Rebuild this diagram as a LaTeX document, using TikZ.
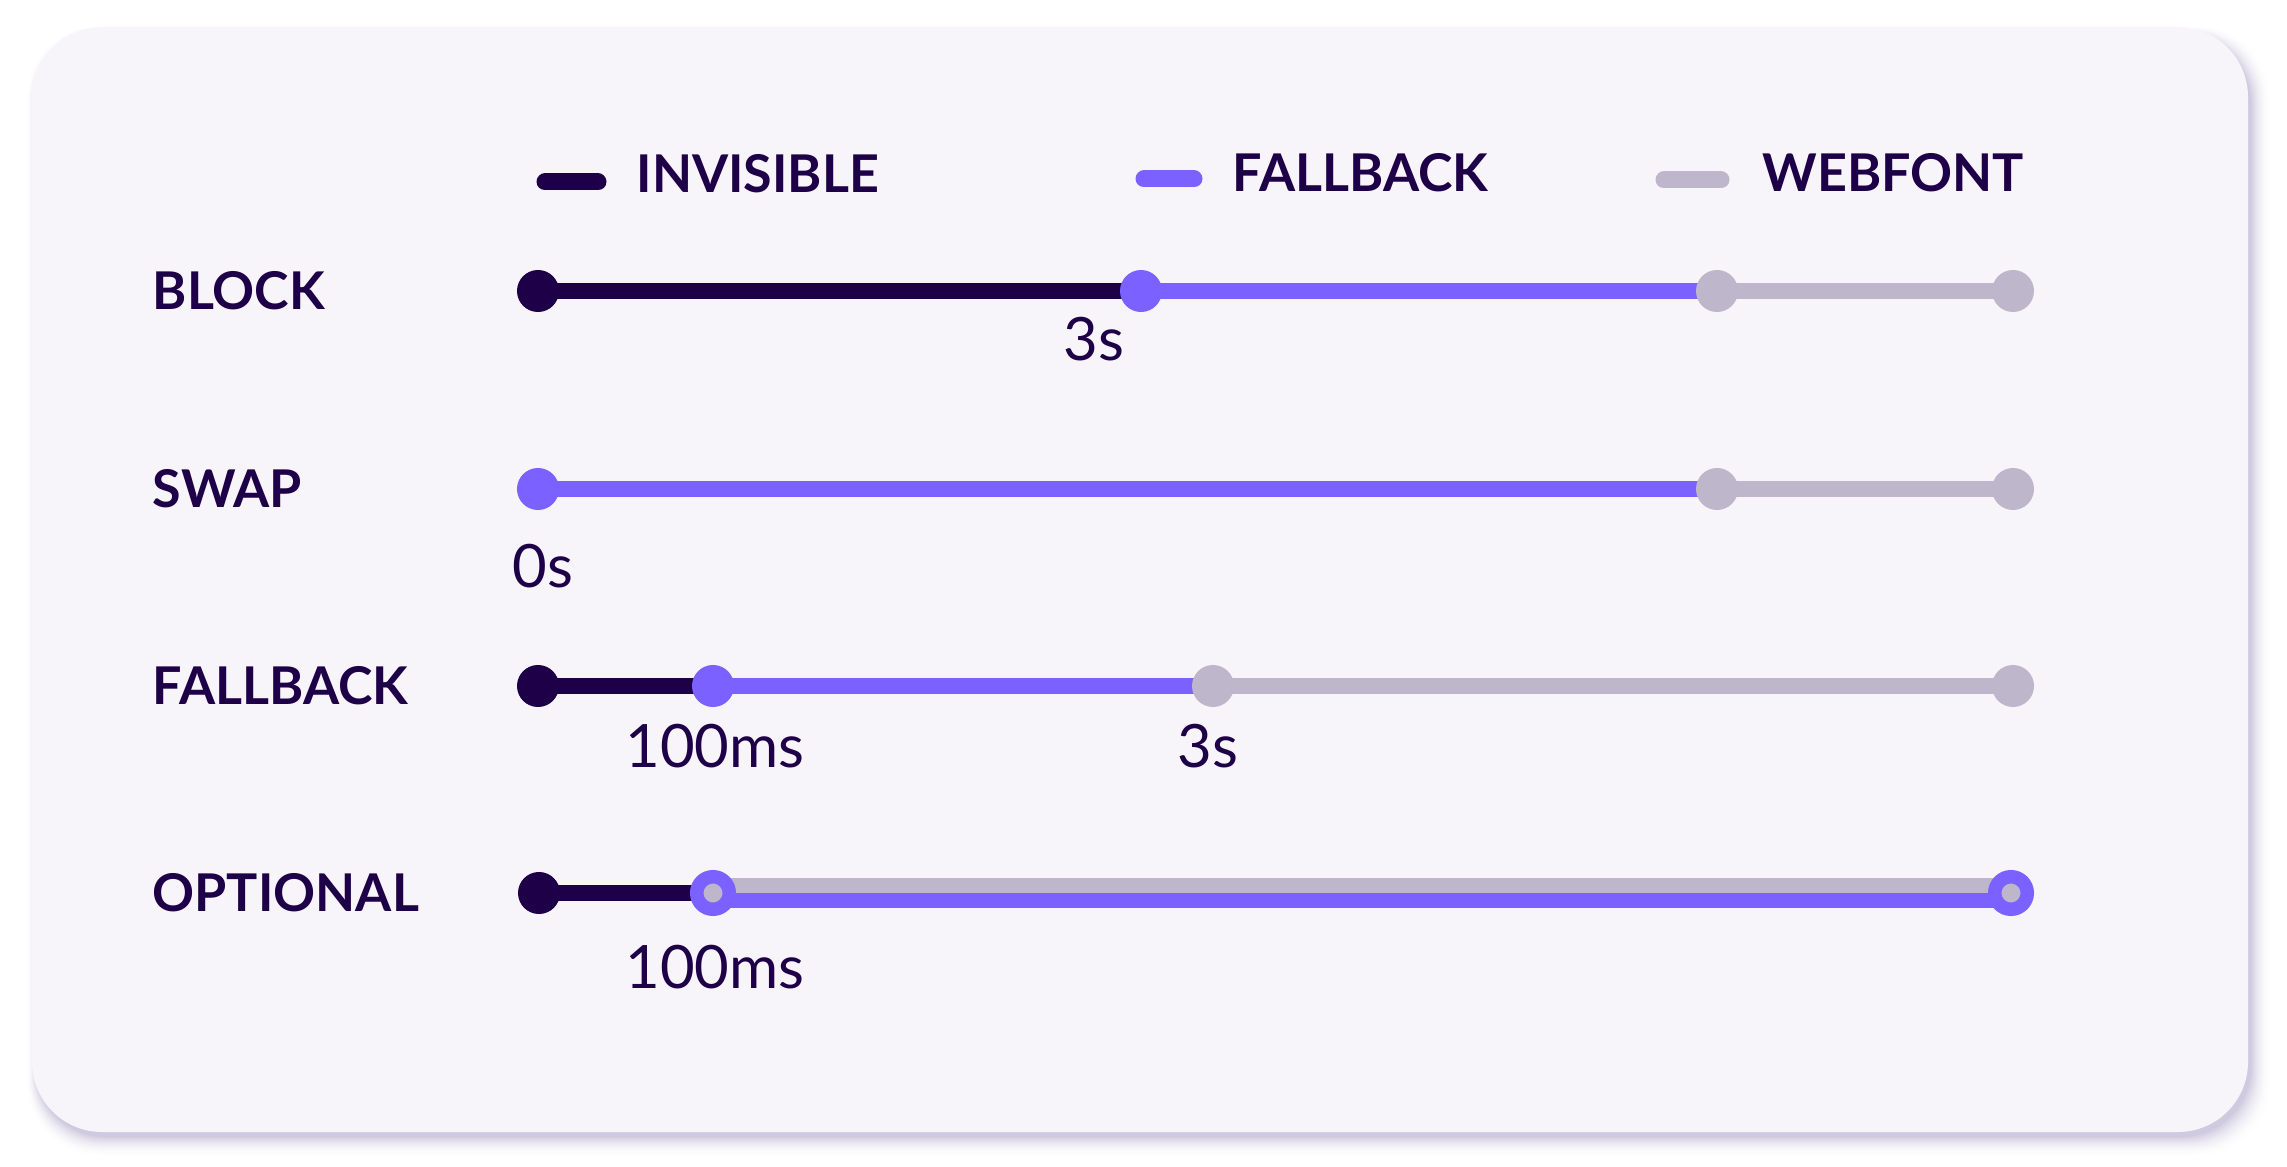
\documentclass[tikz,border=0pt]{standalone}
\usepackage{fontspec}
\setmainfont{Lato}
\pgfdeclarelayer{back}
\pgfdeclarelayer{background}
\pgfsetlayers{back,background,main}
\definecolor{ink}{HTML}{1E0048}
\definecolor{violet}{HTML}{7B61FF}
\definecolor{lgray}{HTML}{BEB7CC}
\definecolor{card}{HTML}{F7F5F9}
\definecolor{shade}{HTML}{A99FC6}
\tikzset{
  x=0.01cm, y=-0.01cm,
  rowlabel/.style={anchor=west, text=ink, font=\bfseries\fontsize{14.8}{18}\selectfont, inner sep=0pt},
  leglabel/.style={anchor=west, text=ink, font=\bfseries\fontsize{14.8}{18}\selectfont, inner sep=0pt},
  timelabel/.style={anchor=center, text=ink, font=\fontsize{17}{20}\selectfont, inner sep=0pt},
  dotk/.style={circle, fill=ink, minimum size=0.42cm, inner sep=0pt},
  dotv/.style={circle, fill=violet, minimum size=0.42cm, inner sep=0pt},
  dotg/.style={circle, fill=lgray, minimum size=0.42cm, inner sep=0pt},
  ringv/.style={circle, fill=lgray, draw=violet, line width=0.135cm, minimum size=0.325cm, inner sep=0pt},
  barK/.style={draw=ink, line width=0.16cm},
  barV/.style={draw=violet, line width=0.16cm},
  barG/.style={draw=lgray, line width=0.16cm},
  thinV/.style={draw=violet, line width=0.152cm},
  thinG/.style={draw=lgray, line width=0.152cm},
  legK/.style={draw=ink, line width=0.17cm, line cap=round},
  legV/.style={draw=violet, line width=0.17cm, line cap=round},
  legG/.style={draw=lgray, line width=0.17cm, line cap=round},
}
\begin{document}
\begin{tikzpicture}
\useasboundingbox (0,0) rectangle (2287,1167);
\begin{pgfonlayer}{back}
\fill[white] (0,0) rectangle (2287,1167);
% shadow: stepped solid tints, lightest outside
\foreach \i in {20,19,...,0} {
  \pgfmathsetmacro\p{55*(1-\i/20)^2}
  \fill[shade!\p!white, rounded corners=0.7cm] (32+4-\i*0.45,27+8-\i*0.45) rectangle (2248+3+\i,1132+5+\i);
}
\fill[card, rounded corners=0.7cm] (32,27) rectangle (2248,1132);
\end{pgfonlayer}

% legend
\coordinate (lk1) at (545,182); \coordinate (lk2) at (598,182);
\coordinate (lv1) at (1144,179); \coordinate (lv2) at (1194,179);
\coordinate (lg1) at (1664,180); \coordinate (lg2) at (1721,180);
\draw[legK] (lk1) -- (lk2);
\draw[legV] (lv1) -- (lv2);
\draw[legG] (lg1) -- (lg2);
\node[leglabel] (tinv) at (636,174) {INVISIBLE};
\node[leglabel] (tfb) at (1232,173) {FALLBACK};
\node[leglabel] (twf) at (1762,173) {WEBFONT};

% row labels
\node[rowlabel] (rblock) at (152,291) {BLOCK};
\node[rowlabel] (rswap) at (152,489) {SWAP};
\node[rowlabel] (rfall) at (152,686) {FALLBACK};
\node[rowlabel] (ropt) at (152,893) {OPTIONAL};

% BLOCK row
\node[dotk] (b0) at (538,291) {};
\node[dotv] (b1) at (1141,291) {};
\node[dotg] (b2) at (1717,291) {};
\node[dotg] (b3) at (2013,291) {};
\begin{pgfonlayer}{background}
\draw[barK] (b0.center) -- (b1.center);
\draw[barV] (b1.center) -- (b2.center);
\draw[barG] (b2.center) -- (b3.center);
\end{pgfonlayer}
\node[timelabel] (t3a) at (1094,339) {3s};

% SWAP row
\node[dotv] (s0) at (538,489) {};
\node[dotg] (s1) at (1717,489) {};
\node[dotg] (s2) at (2013,489) {};
\begin{pgfonlayer}{background}
\draw[barV] (s0.center) -- (s1.center);
\draw[barG] (s1.center) -- (s2.center);
\end{pgfonlayer}
\node[timelabel] (t0) at (543,566) {0s};

% FALLBACK row
\node[dotk] (f0) at (538,686) {};
\node[dotv] (f1) at (713,686) {};
\node[dotg] (f2) at (1213,686) {};
\node[dotg] (f3) at (2013,686) {};
\begin{pgfonlayer}{background}
\draw[barK] (f0.center) -- (f1.center);
\draw[barV] (f1.center) -- (f2.center);
\draw[barG] (f2.center) -- (f3.center);
\end{pgfonlayer}
\node[timelabel] (t100a) at (715,746) {100ms};
\node[timelabel] (t3b) at (1208,746) {3s};

% OPTIONAL row
\node[dotk] (o0) at (539,893) {};
\node[ringv] (o1) at (713,893) {};
\node[ringv] (o2) at (2011,893) {};
\begin{pgfonlayer}{background}
\draw[barK] (o0.center) -- (o1.center);
\draw[thinG] ([yshift=0.076cm]o1.center) -- ([yshift=0.076cm]o2.center);
\draw[thinV] ([yshift=-0.076cm]o1.center) -- ([yshift=-0.076cm]o2.center);
\end{pgfonlayer}
\node[timelabel] (t100b) at (715,967) {100ms};
\end{tikzpicture}
\end{document}
